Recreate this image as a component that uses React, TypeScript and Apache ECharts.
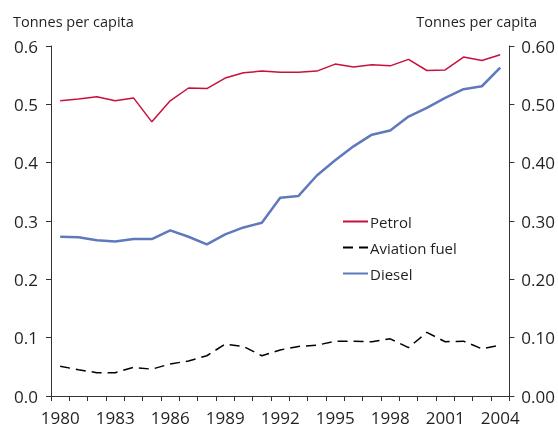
import React, { useEffect, useRef } from "react";
import * as echarts from "echarts";

const years = [
  "1980","1981","1982","1983","1984","1985","1986","1987","1988","1989",
  "1990","1991","1992","1993","1994","1995","1996","1997","1998","1999",
  "2000","2001","2002","2003","2004",
];
const petrol = [
  0.506, 0.509, 0.513, 0.506, 0.511, 0.470, 0.506, 0.528, 0.527, 0.545,
  0.554, 0.557, 0.555, 0.555, 0.557, 0.569, 0.564, 0.568, 0.566, 0.577,
  0.558, 0.559, 0.581, 0.575, 0.585,
];
const aviation = [
  0.051, 0.045, 0.040, 0.040, 0.049, 0.046, 0.055, 0.060, 0.069, 0.089,
  0.085, 0.069, 0.079, 0.085, 0.087, 0.094, 0.094, 0.093, 0.098, 0.083,
  0.109, 0.093, 0.094, 0.081, 0.087,
];
const diesel = [
  0.273, 0.272, 0.267, 0.265, 0.269, 0.269, 0.284, 0.273, 0.260, 0.277,
  0.289, 0.297, 0.340, 0.343, 0.378, 0.404, 0.428, 0.448, 0.455, 0.479,
  0.494, 0.511, 0.526, 0.531, 0.563,
];
const unitLabel = "Tonnes per capita";

const FONT = "Open Sans";
const TXT = "#231f20";
const AX = "#333";

export default function App() {
  const ref = useRef<HTMLDivElement>(null);
  useEffect(() => {
    if (!ref.current) return;
    const chart = echarts.init(ref.current, undefined, { renderer: "svg" });
    const yCommon = {
      type: "value" as const,
      min: 0,
      max: 0.6,
      interval: 0.1,
      splitLine: { show: false },
      axisLine: { show: true, lineStyle: { color: AX, width: 1 } },
      axisTick: { show: true, length: 5, lineStyle: { color: AX } },
    };
    chart.setOption({
      animation: false,
      textStyle: { fontFamily: FONT },
      grid: { left: 51, right: 48, top: 46, bottom: 32 },
      graphic: [
        {
          type: "text",
          left: 13,
          top: 14,
          style: { text: unitLabel, fontFamily: FONT, fontSize: 14.5, fill: TXT },
        },
        {
          type: "text",
          right: 21,
          top: 14,
          style: { text: unitLabel, fontFamily: FONT, fontSize: 14.5, fill: TXT },
        },
      ],
      legend: {
        orient: "vertical",
        left: 337,
        top: 209,
        itemWidth: 25,
        itemHeight: 2,
        itemGap: 11,
        itemStyle: { opacity: 0, borderWidth: 0 },
        textStyle: { fontFamily: FONT, fontSize: 15, color: TXT, padding: [0, 0, 0, -3] },
        data: ["Petrol", "Aviation fuel", "Diesel"],
      },
      xAxis: {
        type: "category",
        data: years,
        boundaryGap: true,
        axisLine: { lineStyle: { color: AX, width: 1 } },
        axisTick: { show: true, interval: 0, length: 5, lineStyle: { color: AX } },
        axisLabel: {
          interval: 2,
          fontFamily: FONT,
          fontSize: 17,
          lineHeight: 17,
          color: TXT,
          margin: 13,
        },
      },
      yAxis: [
        {
          ...yCommon,
          position: "left",
          axisLabel: {
            fontFamily: FONT,
            fontSize: 17,
            color: TXT,
            margin: 13,
            formatter: (v: number) => v.toFixed(1),
          },
        },
        {
          ...yCommon,
          position: "right",
          axisLabel: {
            fontFamily: FONT,
            fontSize: 17,
            color: TXT,
            margin: 12,
            formatter: (v: number) => v.toFixed(2),
          },
        },
      ],
      series: [
        {
          name: "Petrol",
          type: "line",
          data: petrol,
          symbol: "none",
          lineStyle: { color: "#c8103e", width: 1.5 },
          itemStyle: { color: "#c8103e" },
        },
        {
          name: "Aviation fuel",
          type: "line",
          data: aviation,
          symbol: "none",
          lineStyle: { color: "#000", width: 1.5, type: [10, 6] },
          itemStyle: { color: "#000" },
        },
        {
          name: "Diesel",
          type: "line",
          data: diesel,
          symbol: "none",
          lineStyle: { color: "#6079bd", width: 2.5 },
          itemStyle: { color: "#6079bd" },
        },
      ],
    });
    return () => chart.dispose();
  }, []);
  return (
    <div
      ref={ref}
      style={{ position: "fixed", left: 0, top: 0, width: 558, height: 428 }}
    />
  );
}
